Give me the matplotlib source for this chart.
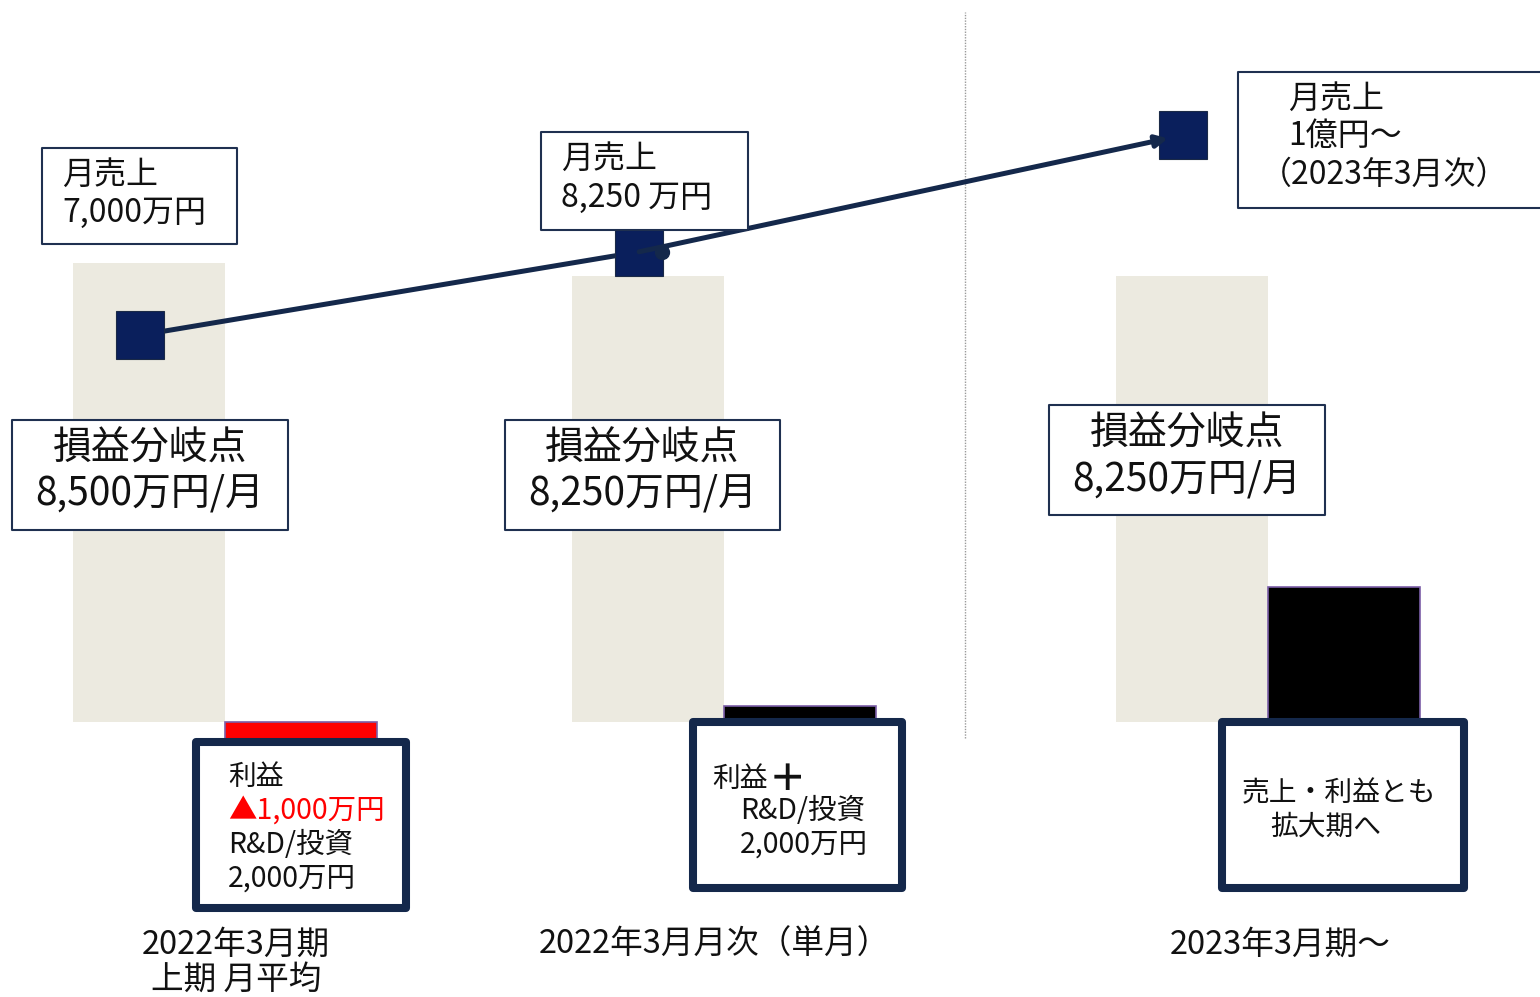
import numpy as np
import matplotlib
matplotlib.use('Agg')
import matplotlib.pyplot as plt
from matplotlib.patches import Rectangle
from matplotlib.transforms import blended_transform_factory

plt.rcParams['font.family'] = ['Noto Sans CJK JP', 'DejaVu Sans']

# データ（単位：万円）
categories = ['2022年3月期\n上期 月平均', '2022年3月月次（単月）', '2023年3月期～']
break_even = [8500, 8250, 8250]
profit = [-1000, 300, 2500]
sales = [7000, 8250, 10000]
profit_colors = ['#FF0000', '#000000', '#000000']

# レイアウト
group_x = np.array([0.0, 1.0, 2.09])
bar_w = 0.3046
W, H = 1540, 997
beige = '#ECEAE0'
navy = '#14284B'
marker_c = '#0A1F5C'


def fx(px):
    return px / W


def fy(py):
    return 1 - py / H


fig = plt.figure(figsize=(15.4, 9.97), dpi=100)
ax = fig.add_axes([0, 0, 1, 1])
ax.set_xlim(-0.4509, 2.6353)
ax.set_ylim(-5093, 13370)
ax.axis('off')

# 損益分岐点（ベージュ）と利益（右側の小さい棒）
ax.bar(group_x - bar_w / 2, break_even, width=bar_w, color=beige, zorder=1)
ax.bar(group_x + bar_w / 2, profit, width=bar_w, color=profit_colors,
       edgecolor='#7B5EA7', linewidth=1.2, zorder=2)

# 区切り線
ax.axvline(1.483, ymin=fy(738), ymax=fy(12), color='#9A9A9A', lw=1,
           ls=(0, (1, 1)), zorder=1)

# 月売上の折れ線
ax2 = ax.twinx()
ax2.set_ylim(-2926, 12026)
ax2.axis('off')
line_x = group_x - 0.17
ax2.plot(line_x[:2], sales[:2], color=navy, lw=3.6, zorder=3)
ax2.annotate('', xy=(line_x[2], sales[2]), xytext=(line_x[1], sales[1]),
             arrowprops=dict(arrowstyle='-|>,head_length=0.7,head_width=0.35',
                             color=navy, lw=3.6, shrinkA=0, shrinkB=11),
             zorder=5)
ax2.plot(line_x, sales, ls='none', marker='s', ms=34, color=marker_c,
         markeredgecolor='#1B2A47', markeredgewidth=0.8, zorder=4)
ax2.plot([line_x[1] + 0.046], [sales[1]], marker='o', ms=10, color=navy, zorder=4)


def box(x0, y0, x1, y1, lw, ec='#1F3050'):
    ax2.add_patch(Rectangle((fx(x0), fy(y1)), fx(x1) - fx(x0), fy(y0) - fy(y1),
                            transform=ax2.transAxes, fc='white', ec=ec, lw=lw,
                            joinstyle='round', zorder=6, clip_on=False))


def txt(x, y, s, size, ha='left', color='#111111', **kw):
    ax2.text(fx(x), fy(y + 2), s, transform=ax2.transAxes, ha=ha, va='center',
             fontsize=size, color=color, zorder=7, **kw)


# 月売上ボックス
box(42, 148, 237, 244, 1.5)
txt(62, 173, '月売上', 23)
txt(62, 211, '7,000万円', 23)

box(541, 132, 748, 230, 1.5)
txt(561, 157, '月売上', 23)
txt(561, 196, '8,250 万円', 23)

box(1238, 72, 1560, 208, 1.5)
txt(1288, 97, '月売上', 23)
txt(1288, 134, '1億円～', 23)
txt(1260, 173, '（2023年3月次）', 23)

# 損益分岐点ボックス
be_boxes = [(12, 420, 288, 530), (505, 420, 780, 530), (1049, 405, 1325, 515)]
for (x0, y0, x1, y1), v in zip(be_boxes, break_even):
    box(x0, y0, x1, y1, 1.5)
    cx = (x0 + x1) / 2
    txt(cx, y0 + 27, '損益分岐点', 28, ha='center')
    txt(cx, y0 + 72, f'{v:,}万円/月', 28, ha='center')

# 利益ボックス
box(196, 742, 406, 908, 5.8, ec=navy)
txt(228, 775, '利益', 20)
txt(228, 809, '▲1,000万円', 20.5, color='#FF0000')
txt(228, 843, 'R&D/投資', 20.5)
txt(228, 877, '2,000万円', 20.5)

box(693, 722, 902, 888, 5.8, ec=navy)
txt(712, 777, '利益', 20)
txt(787, 777, '＋', 27, ha='center', fontweight='bold')
txt(740, 809, 'R&D/投資', 20.5)
txt(740, 843, '2,000万円', 20.5)

box(1222, 722, 1464, 888, 5.8, ec=navy)
txt(1242, 791, '売上・利益とも', 20)
txt(1270, 825, '拡大期へ', 20)

# カテゴリラベル
label_tr = blended_transform_factory(ax.transData, ax.transAxes)
label_dx = [0.022, -0.02, 0.024]
for gx, dx, lab in zip(group_x, label_dx, categories):
    for i, part in enumerate(lab.split('\n')):
        ax.text(gx + dx, fy(945 + 35 * i), part, transform=label_tr,
                ha='center', va='center', fontsize=23.5, color='#111111')

fig.savefig('out.png', dpi=100)
